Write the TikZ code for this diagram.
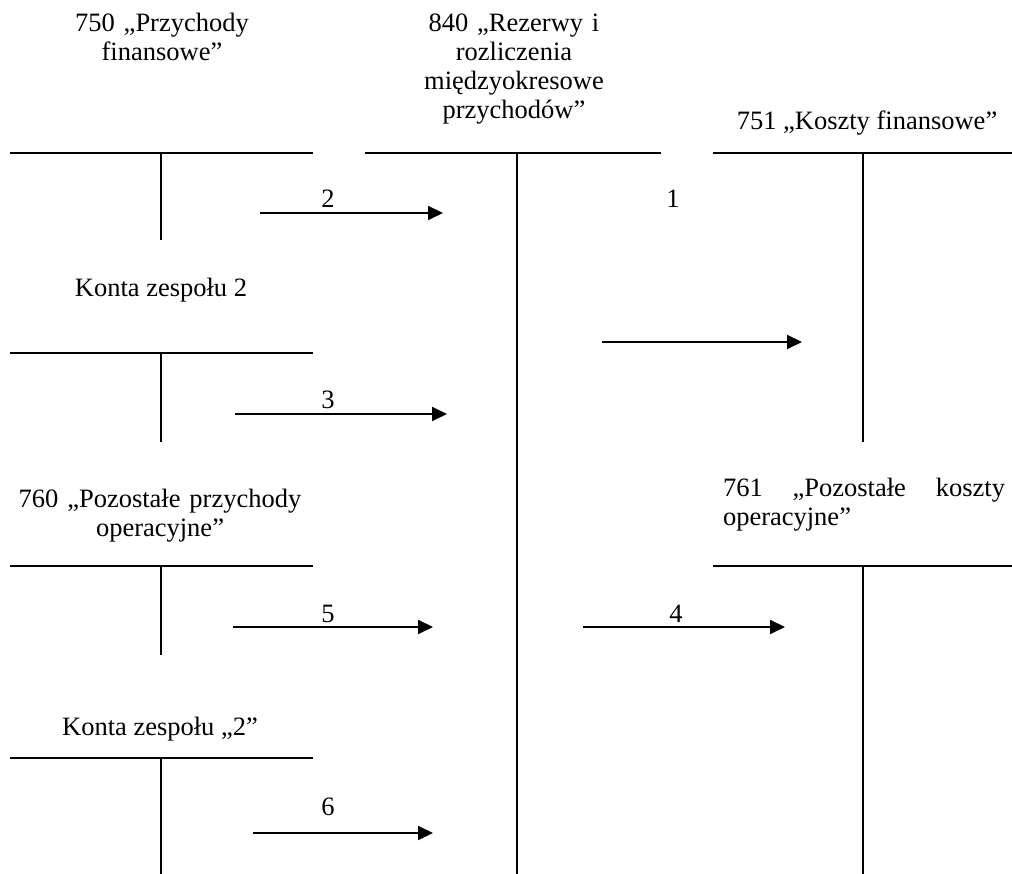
\documentclass[tikz,border=0pt]{standalone}
\usepackage{fontspec}
\setmainfont{Liberation Serif}
\usetikzlibrary{arrows.meta}
\begin{document}
\begin{tikzpicture}[x=1pt,y=-1pt,
  acct/.style={line width=2pt},
  flow/.style={line width=2pt,-{Triangle[length=15pt,width=14pt]}},
  lbl/.style={font=\fontsize{26.5}{29}\selectfont, inner sep=0pt, outer sep=0pt},
  ttl/.style={lbl, align=center, anchor=base}]
\useasboundingbox (0,0) rectangle (1012,874);

% titles
\node[ttl, text width=260pt] (t750) at (162,32) {750 „Przychody\\finansowe”};
\node[ttl, text width=260pt] (t840) at (514,32) {840 „Rezerwy i\\rozliczenia\\międzyokresowe\\przychodów”};
\node[lbl, anchor=base] (t751) at (867,130) {751 „Koszty finansowe”};
\node[lbl, anchor=base] (tk2) at (161,297) {Konta zespołu 2};
\node[ttl, text width=300pt] (t760) at (160,507) {760 „Pozostałe przychody\\operacyjne”};
\node[lbl, anchor=base west, text width=282pt, align=left] (t761) at (723,496) {761\hfill „Pozostałe\hfill koszty\\operacyjne”};
\node[lbl, anchor=base] (tk2b) at (160,735) {Konta zespołu „2”};

% T-accounts
\draw[acct] (10,153) -- (313,153) (161,153) -- (161,240);
\draw[acct] (365,153) -- (661,153) (517,153) -- (517,874);
\draw[acct] (713,153) -- (1012,153) (863,153) -- (863,442);
\draw[acct] (10,353) -- (313,353) (161,353) -- (161,442);
\draw[acct] (10,566) -- (313,566) (161,566) -- (161,655);
\draw[acct] (713,566) -- (1012,566) (863,566) -- (863,874);
\draw[acct] (10,758) -- (313,758) (161,758) -- (161,874);

% arrow end points
\coordinate (s2) at (260,213); \coordinate (e2) at (443,213);
\coordinate (s1) at (602,342); \coordinate (e1) at (802,342);
\coordinate (s3) at (235,414); \coordinate (e3) at (447,414);
\coordinate (s5) at (233,627); \coordinate (e5) at (433,627);
\coordinate (s4) at (583,627); \coordinate (e4) at (785,627);
\coordinate (s6) at (253,833); \coordinate (e6) at (433,833);

\draw[flow] (s2) -- (e2);
\draw[flow] (s1) -- (e1);
\draw[flow] (s3) -- (e3);
\draw[flow] (s5) -- (e5);
\draw[flow] (s4) -- (e4);
\draw[flow] (s6) -- (e6);

% labels
\node[lbl, anchor=base] (n2) at (328,208) {2};
\node[lbl, anchor=base] (n1) at (673,208) {1};
\node[lbl, anchor=base] (n3) at (328,409) {3};
\node[lbl, anchor=base] (n5) at (328,622) {5};
\node[lbl, anchor=base] (n4) at (676,622) {4};
\node[lbl, anchor=base] (n6) at (328,815) {6};
\end{tikzpicture}
\end{document}
